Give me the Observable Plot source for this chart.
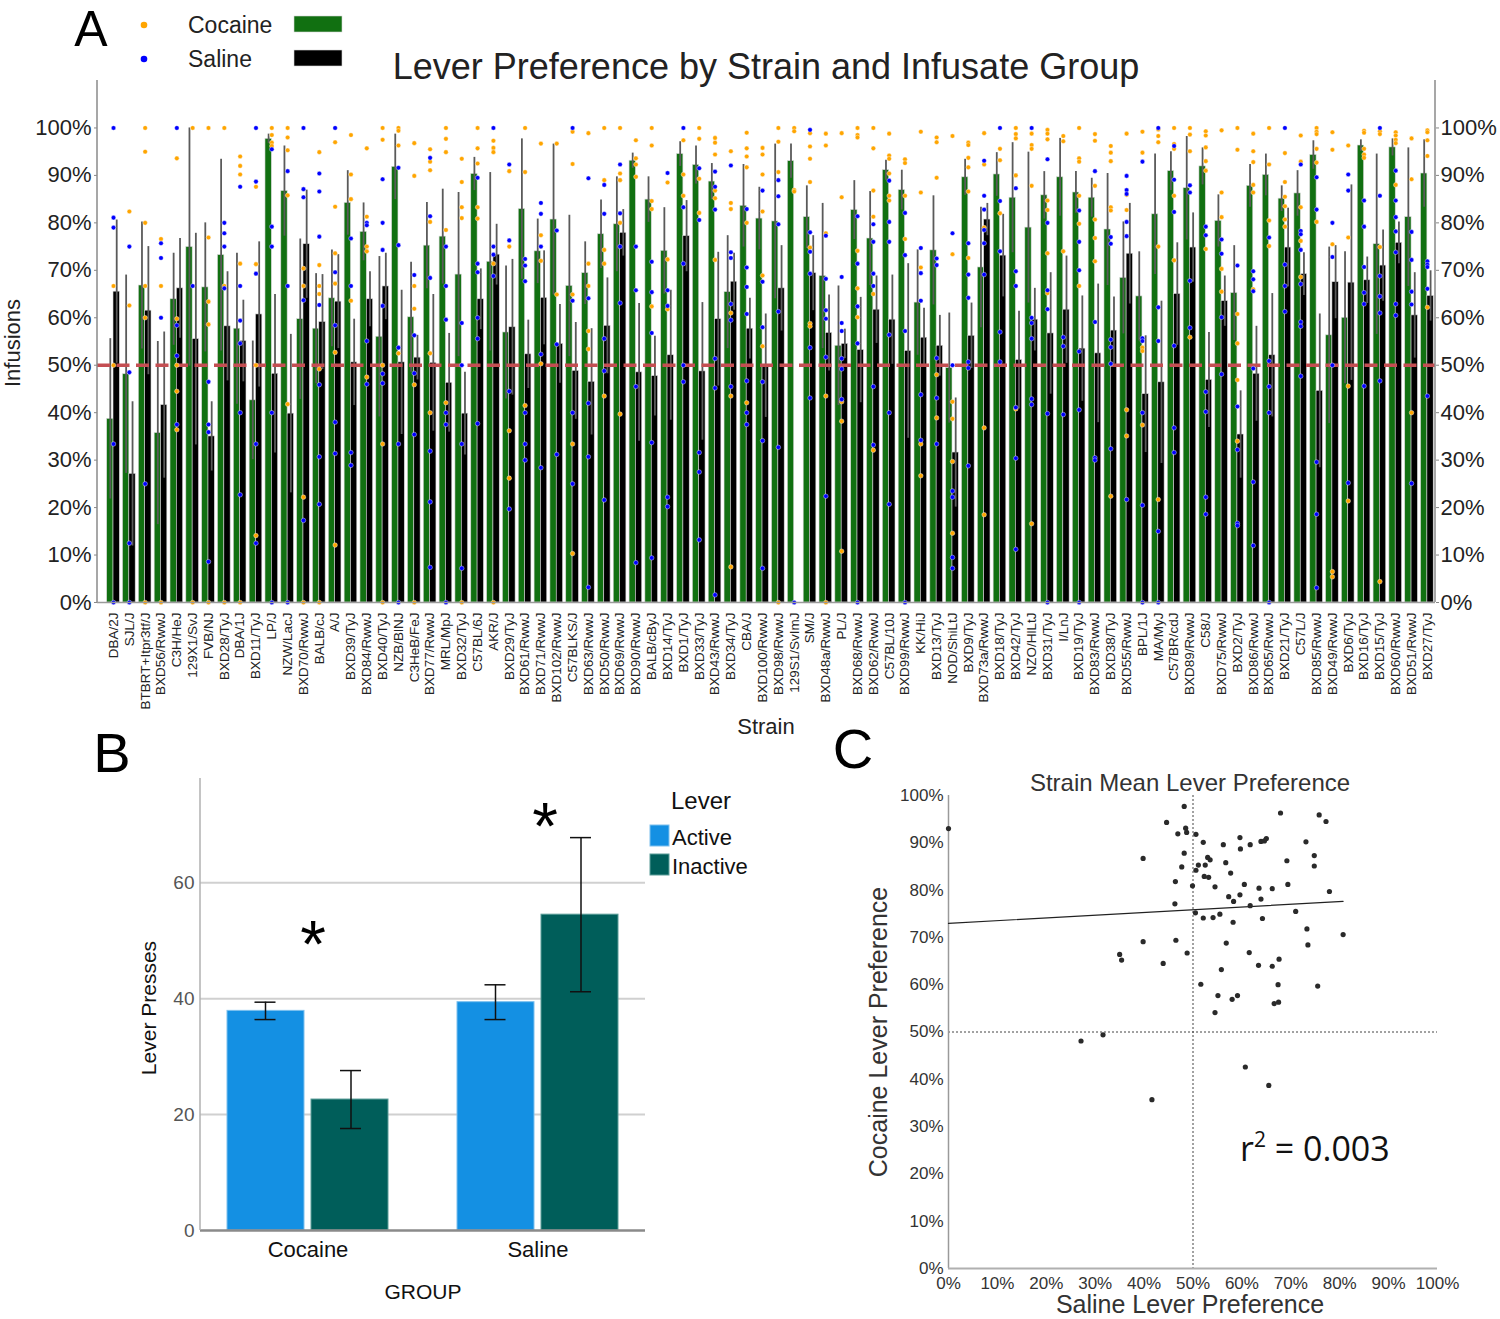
<!DOCTYPE html>
<html><head><meta charset="utf-8">
<script src="https://cdn.jsdelivr.net/npm/d3@7"></script>
<script src="https://cdn.jsdelivr.net/npm/@observablehq/plot@0.6"></script>
<style>
body{margin:0;background:#fff;}
#page{position:relative;width:1500px;height:1319px;overflow:hidden;background:#fff;}
#page svg{position:absolute;}
</style></head><body><div id="page"></div>
<script>
// ---------- Panel A data ----------
const strains = ["DBA/2J","SJL/J","BTBRT+Itpr3tf/J","BXD56/RwwJ","C3H/HeJ","129X1/SvJ","FVB/NJ","BXD28/TyJ","DBA/1J","BXD11/TyJ","LP/J","NZW/LacJ","BXD70/RwwJ","BALB/cJ","A/J","BXD39/TyJ","BXD84/RwwJ","BXD40/TyJ","NZB/BlNJ","C3HeB/FeJ","BXD77/RwwJ","MRL/MpJ","BXD32/TyJ","C57BL/6J","AKR/J","BXD29/TyJ","BXD61/RwwJ","BXD71/RwwJ","BXD102/RwwJ","C57BLKS/J","BXD63/RwwJ","BXD50/RwwJ","BXD69/RwwJ","BXD90/RwwJ","BALB/cByJ","BXD14/TyJ","BXD1/TyJ","BXD33/TyJ","BXD43/RwwJ","BXD34/TyJ","CBA/J","BXD100/RwwJ","BXD98/RwwJ","129S1/SvImJ","SM/J","BXD48a/RwwJ","PL/J","BXD68/RwwJ","BXD62/RwwJ","C57BL/10J","BXD99/RwwJ","KK/HiJ","BXD13/TyJ","NOD/ShiLtJ","BXD9/TyJ","BXD73a/RwwJ","BXD18/TyJ","BXD42/TyJ","NZO/HlLtJ","BXD31/TyJ","I/LnJ","BXD19/TyJ","BXD83/RwwJ","BXD38/TyJ","BXD55/RwwJ","BPL/1J","MA/MyJ","C57BR/cdJ","BXD89/RwwJ","C58/J","BXD75/RwwJ","BXD2/TyJ","BXD86/RwwJ","BXD65/RwwJ","BXD21/TyJ","C57L/J","BXD85/RwwJ","BXD49/RwwJ","BXD6/TyJ","BXD16/TyJ","BXD15/TyJ","BXD60/RwwJ","BXD51/RwwJ","BXD27/TyJ"];

const cocaineMean = [38.7,48.1,66.8,35.7,63.9,74.9,66.4,73.2,57.7,42.6,
 97.7,86.7,59.7,57.7,64.1,84.2,78.1,56.0,91.8,60.1,
 75.2,77.1,69.1,90.3,71.8,56.9,82.9,74.0,80.7,66.7,
 69.4,77.6,79.7,93.1,84.9,74.1,94.5,92.2,88.7,65.4,
 83.6,80.9,80.3,93.0,81.2,68.8,54.1,82.7,76.7,91.1,
 86.9,63.2,74.2,49.4,89.6,70.6,90.2,85.3,79.0,85.8,
 89.6,86.4,85.3,78.6,68.4,64.5,81.8,90.9,87.3,91.9,
 80.4,65.2,87.8,90.1,85.1,86.2,94.3,56.3,60.0,96.3,
 75.5,95.9,81.2,90.4];

const salineMean = [65.5,27.1,61.5,41.6,66.2,55.5,35.0,58.2,55.1,60.7,
 48.2,39.8,75.5,59.1,63.4,50.6,63.9,66.6,50.6,51.6,
 50.5,46.3,39.8,63.9,73.3,58.0,52.3,64.2,54.5,48.8,
 46.5,58.3,77.9,48.5,47.7,52.1,77.2,48.7,59.7,67.6,
 57.7,49.9,66.2,0,69.4,56.8,54.5,53.2,61.7,59.6,
 53.0,55.8,54.1,31.6,56.2,80.7,73.1,51.1,59.6,56.7,
 61.7,53.5,52.5,57.3,73.5,43.9,46.4,65.0,74.8,46.9,
 63.5,35.4,48.2,52.1,74.8,69.2,44.6,67.5,67.4,67.9,
 71.0,75.8,60.5,64.6];

const cocaineErrHigh = [55.6,69,80.2,55,73.6,100,80,93.4,73.6,55.1,
 98.7,96.2,76.6,69.3,74.3,91,84.2,72.9,98.7,71.7,
 84.3,87.1,86.4,93.8,90.6,70.9,97.7,80.8,96.6,81.6,
 76,84.8,89.7,94.7,89.7,83.2,97.1,96.2,92.5,77.3,
 92.3,87.5,96.6,96.6,87.8,84.1,66.7,88.9,86.6,93.2,
 91.1,74.3,85.7,61,93.4,83.3,94.8,96.9,94.9,90.8,
 97.8,90.8,89.4,90.4,80.2,73.9,94.5,95,98.2,95.8,
 85.9,75.2,92.3,94.5,87.8,91,97.3,74.9,73.9,97.5,
 94.5,97.7,95.8,97.5];

const salineErrHigh = [80.6,42.3,75,57,76.7,77.8,42.3,69.7,63.7,76,
 64.9,56.5,86.9,69.1,73.3,59.7,69.7,73.6,65.8,56.3,
 64.9,56.7,48.5,70.3,79.7,72.3,59.5,74.1,62.8,59,
 57.7,68.4,82.8,63,56.1,65.8,84.7,63.2,73.8,73.6,
 64.1,60.8,75.2,0,77.3,64.8,57.6,64.3,68.8,69,
 71.4,62,60.5,43.1,63.1,84.1,81.8,61.4,66.2,69.5,
 73,64.6,67.1,64.4,84.1,56.2,63.5,75.8,82.1,56.9,
 68.8,44.6,58.2,65.1,83.1,73.7,60.8,75.2,88,72.8,
 78.5,80.2,69.5,69.9];

const cocaineDots = [
 [66.7,50],[82.4,62.6],[100,95,80,66.7,60,0],[76.6,66.7,0],[93.6,59.8,50,44.5,36.4],
 [100,0],[100,76.9,63.4,58.6,0],[100,66.7,0],[94,92,90.2,71.4,0],[87.6,71.3,50,14.1],
 [100,98.5,96.9,96.2],[100,98,95.3,85.8,41.8],[70.4,66.7,22.2,0],[94.9,71.1,66.7,65,49.2,0],[97,83.4,73.6,67.2,52.7,12.1],
 [98.5,90.2,85,63.6],[95.7,81.3,75,74,47.5],[100,97.5,50,33.4,0],[100,99.4,96.3,52.5],[96.8,89.9,66.7,61.9,45.9,0],
 [95.5,92.9,91.1,80.2,52.5,40],[100,97.7,94.9,78.5,42.1],[93.5,88.6,83.3,81,0],[100,95.7,92.5,83.3,80.9],[97.3,95.8,94.9,71.4,0],
 [90.9,75,36.2,26.2],[100,90.7,41.5],[96.7,77.4,72,50.3],[96.7,64.9],[99.2,92.4,64.9,33.4,10.3],
 [98.9,71.4,66.7,57.2,53.4],[100,89,74.3,71.4,43.5],[100,90.4,89,80,39.7],[97.4,93.6,92.3,89.7],[100,96.3,84.6,82.9,62.4],
 [88.5,72.3,61.8],[97.4,90.2,85.7],[100,97.7,89.3,82.1],[97.9,96.9,94.4,86.8,85.2,72.2],[95.1,84.2,82.9,61,43.5,7.5],
 [99,95.7,94,91.7,80,42.1],[95.8,94.4,90.2,82.4,68.9,54],[100,97.1,90.7,0],[100,99.3,86.9,86.6],[98.9,96.1,93.5,88.6,74.8,58.8,58.2],
 [98.8,96.3,77.8,43.5,0],[98.9,85.4,42.3,38.2,10.8],[100,98.5,98,74.1,66.2,60.1],[100,95.7,86.8,81.3,65,32.1],[98.8,94.2,93.5,90.4,85.7,84.7],
 [93.4,92.6,85.7,76.6],[99.2,86.4,70.6,33.4,26.7],[98,97,89.5,48,38.9],[98.3,73.4,42.3,38.7,29.7,14.6],[96.9,96.4,93.7,91.7,86.6,72.6],
 [98.9,92.3,79,36.8,18.5],[95.6,93.2,82],[100,98.7,97.8,90,40.8],[98.8,96.4,95.6,87.8,16.6],[99.6,98.8,97.6,84.7,82.7,73.6,65.2],
 [98.3,97.2,74],[100,93.6,92.9,85.7,79.8,66.7],[98.7,97.3,87.8,80.7,76.8,71.9],[96.2,94.8,93,83.3,82.6,22.4],[98.8,85.9,82.7,40.6,35.1],
 [99.2,94.8,53.7,53,37.4],[99.7,98.3,97,75,21.7],[100,96.6,95.6,85.7,72.1],[100,98.6,95.1,55.9],[99.3,98.4,95.9,93,91,74.5],
 [99.5,86.4,81.2,70.3,65.5],[100,95.4,60.8,54.6,46.9,34],[98.8,95.1,92.8,88,86.4,66],[100,92.3,80.5,75.1],[94.7,88.6,85.5,83.5,80.7,79.2],
 [98.4,92.9,83.3,76.2,68.6],[100,99.2,98.7,95.6,92.7,80.2],[99.1,95.4,75.5,6.5,5.4],[96.3,76.9,45.6,21.4],[99.4,99,95.6,94.4,93.7],
 [99.3,98.7,74.9,4.4],[99.1,98.4,97.5,96.8,88],[97.8,89.2,40],[99.5,99.1,97.4,94.1,62.2]];

const salineDots = [
 [100,81.1,79,33.4,0],[75,48.5,12.5,0],[25],[75.7,72.6,60],[100,58.4,52,37.5],
 [66.7],[46.5,37.5,35.9,8.6],[80,77.8,75,66.2],[87.6,66.7,59.4,54.6,40,22.7],[100,88.7,69.3,33.4,12.5],
 [95.5,79.2,75,40,0],[90.9,66.7,0],[100,87.1,85.4,63.7,17.3],[90.4,86.6,77.1,62.7,45.9,30.7,20.7],[100,69.6,58.4,38,31.4],
 [76.7,66.7,31.6,28.9],[80,79.5,55.1,46],[89.2,80,74.3,62.5,48.2,46.2],[91.6,75.3,53.7,33.4,0],[69,56.3,48.3,35.4],
 [93.7,81.4,68.4,31.9,21.2,7.4],[75,66.7,59.6,40,37.5,0],[58.9,50,33.4,7.2],[89.5,71.4,69.6,60,55.6,37.7],[100,75,73.3,68.8],
 [92.3,76.3,44.5,19.7],[72.4,71,67.7,40,33.4,30],[84.2,81.9,75,52.3,28.4],[78.4,54.4,31.2],[100,63.6,40,25],
 [89.4,64.1,42,30.7,3.2],[88,81.9,55.6,48.8,21.6],[92.3,82,75,63.1],[75,65.8,45.5,8.4],[71.8,65.4,56.8,33.7,9.4],
 [90.5,65.8,62.5,22.2,20.2],[100,83.3,71.4,50,46.5],[91.5,80.6,31.6,27.5,13.2],[90.8,87.6,82.8,51.4,45.2,1.6],[92.1,73.8,72.6,62.9,59.5,45.5],
 [82.9,70.6,66.5,60.8,46.7,40,37.5],[86.8,67.6,58,46.5,34.1,7.2],[89,85.6,79.7,61.3,32.7],[0],[99.6,78,73.9,69.3,53.7,43.1],
 [77.3,68.2,61.6,59.8,51.7,22.4],[68.6,58.9,57.2,51.4,49.2,42.8],[81.4,71.4,62.4,54.6,0],[79.7,76,69.3,66.7,45.5,33.2],[88.9,80.2,76,56.4,40,20.7],
 [82.1,73.2,57.2,0],[74.7,69.4,63.6,43.8,34.2],[72.5,71.1,51.5,43.1,33.4],[77.8,50,23.5,22.2,9.5,7.2],[75.7,69.1,64.2,50.7,49.4,28.8],
 [93.1,85.7,82.8,78.5,75.7,69.1],[100,84.6,74,57,50.7],[87.3,69.8,66.7,41.1,30.4,11.2],[100,60,58.9,55.6,42.9,41.7],[93.4,80,65.8,61.8,39.8,0],
 [55.9,54,39.6],[82.6,76,70,52.9,40.6,0],[90.9,59.1,30.5,30],[77,75.6,55.4,53.8,50.3,32.4],[89.9,86.9,86.1,80.2,77.2,21.7],
 [92.9,55.7,55.1,40,20.5,0],[100,62.2,55.1,15,0],[96.2,89.1,82.3,54.1,36.8,31.6],[87.9,86.4,67.8,57.9],[79.2,77.4,44.4,40.2,22.2,18.6],
 [76.5,73.5,60.1,48.1],[71,41.3,32.2,16.7,16.2],[69.8,68.1,65.6,49.3,25.4,12],[76.9,50.9,45.5,40,0],[100,71.2,66.7,61.3],
 [92.3,78.3,77.6,74.3,67.1,59.1,58.2,47.7],[89.6,82.8,29.6,18.6,3.1],[80,72.8,50],[90.2,86.8,25.2],[84.7,79.2,70.7,65.3,62.9,45.6],
 [100,85.7,68.8,64.5,61,46.7],[91,84.7,81.2,78.2,73.8,62.9,60.5],[78.1,72.2,65.5,62.8,25.1],[71.9,71.2,70.7,66.1,43.5]];

const pctTicks = [0,10,20,30,40,50,60,70,80,90,100];

// ---------- Panel B data ----------
const groups = ["Cocaine","Saline"];
const activeMean = [37.9, 39.4];
const activeErr = [1.5, 3.0];
const inactiveMean = [22.6, 54.5];
const inactiveErr = [5.0, 13.3];
const pressTicks = [0,20,40,60];

// ---------- Build ----------
const page = document.getElementById("page");
const FONT = "'Liberation Sans', Arial, sans-serif";
function put(svg, left, top){ svg.style.left = left+"px"; svg.style.top = top+"px"; svg.style.position="absolute"; svg.style.maxWidth="none"; page.appendChild(svg); }

const rowsA = strains.map((s,i)=>({
  strain:s, coc:cocaineMean[i], sal:salineMean[i],
  cHi:cocaineErrHigh[i], cLo:Math.max(0, 2*cocaineMean[i]-cocaineErrHigh[i]),
  sHi:salineErrHigh[i], sLo:Math.max(0, 2*salineMean[i]-salineErrHigh[i])
}));
const cocDotsA = strains.flatMap((s,i)=>cocaineDots[i].map(v=>({strain:s, v})));
const salDotsA = strains.flatMap((s,i)=>salineDots[i].map(v=>({strain:s, v})));
const halfBand = 6.33;

const plotA = Plot.plot({
  width:1500, height:740, marginTop:80, marginBottom:138, marginLeft:97, marginRight:65,
  style:{fontFamily:FONT, background:"transparent", color:"#222"},
  x:{type:"band", domain:strains, range:[105.1,1434.8], paddingInner:0.2, paddingOuter:0.1, label:null},
  y:{domain:[0,110], label:null},
  marks:[
    Plot.barY(rowsA,{x:"strain", y:"coc", fill:"#117011", insetRight:halfBand, stroke:"#d6d6d6", strokeWidth:0.6}),
    Plot.barY(rowsA,{x:"strain", y:"sal", fill:"#000000", insetLeft:halfBand, stroke:"#d6d6d6", strokeWidth:0.6}),
    Plot.ruleX(rowsA,{x:"strain", y1:"cLo", y2:"cHi", dx:-3.2, stroke:"#5a5a5a", strokeWidth:1.8}),
    Plot.ruleX(rowsA,{x:"strain", y1:"sLo", y2:"sHi", dx:3.2, stroke:"#5a5a5a", strokeWidth:1.8}),
    Plot.ruleY([50],{stroke:"#c44e52", strokeWidth:3.3, strokeDasharray:"13,6.5"}),
    Plot.dot(cocDotsA,{x:"strain", y:"v", r:2.3, fill:"#ffa500", stroke:"#ffffff", strokeWidth:0.4}),
    Plot.dot(salDotsA,{x:"strain", y:"v", r:2.3, fill:"#0000ff", stroke:"#ffffff", strokeWidth:0.4}),
    Plot.ruleY([0],{stroke:"#9a9a9a", strokeWidth:1.5}),
    Plot.axisY({anchor:"left", ticks:pctTicks, tickFormat:d=>d+"%", tickSize:3, tickPadding:3, fontSize:22, label:null, stroke:"#888"}),
    Plot.axisY({anchor:"right", ticks:pctTicks, tickFormat:d=>d+"%", tickSize:3, tickPadding:2, fontSize:22, label:null, stroke:"#888"}),
    Plot.axisX({tickRotate:-90, tickSize:0, tickPadding:10, fontSize:13.5, label:null})
  ]
});
{
  const s = d3.select(plotA);
  s.append("line").attr("x1",97).attr("x2",97).attr("y1",80).attr("y2",602).attr("stroke","#8a8a8a").attr("stroke-width",1.5);
  s.append("line").attr("x1",1435).attr("x2",1435).attr("y1",80).attr("y2",602).attr("stroke","#8a8a8a").attr("stroke-width",1.5);
}
put(plotA, 0, 0);

// ---------- Panel B ----------
const rowsB = groups.map((g,i)=>({g,
  act:activeMean[i], actLo:activeMean[i]-activeErr[i], actHi:activeMean[i]+activeErr[i],
  ina:inactiveMean[i], inaLo:inactiveMean[i]-inactiveErr[i], inaHi:inactiveMean[i]+inactiveErr[i]}));
const plotB = Plot.plot({
  width:800, height:579, marginTop:38, marginBottom:89, marginLeft:200, marginRight:155,
  style:{fontFamily:FONT, background:"transparent", color:"#111"},
  x:{type:"band", domain:groups, range:[200,645], paddingInner:0.3, paddingOuter:0.117, label:null},
  y:{domain:[0,78], label:null},
  marks:[
    Plot.gridY([20,40,60],{stroke:"#d0d0d0", strokeOpacity:1, strokeWidth:2}),
    Plot.barY(rowsB,{x:"g", y:"act", fill:"#1490e3", insetRight:84, stroke:"#7cc0ee", strokeWidth:1}),
    Plot.barY(rowsB,{x:"g", y:"ina", fill:"#005e5a", insetLeft:84, stroke:"#5a9c98", strokeWidth:1}),
    Plot.ruleX(rowsB,{x:"g", y1:"actLo", y2:"actHi", dx:-42.5, stroke:"#111", strokeWidth:1.5}),
    Plot.ruleX(rowsB,{x:"g", y1:"inaLo", y2:"inaHi", dx:43, stroke:"#111", strokeWidth:1.5}),
    Plot.tickY(rowsB,{x:"g", y:"actHi", dx:-42.5, insetLeft:70, insetRight:70, stroke:"#111", strokeWidth:1.5}),
    Plot.tickY(rowsB,{x:"g", y:"actLo", dx:-42.5, insetLeft:70, insetRight:70, stroke:"#111", strokeWidth:1.5}),
    Plot.tickY(rowsB,{x:"g", y:"inaHi", dx:43, insetLeft:70, insetRight:70, stroke:"#111", strokeWidth:1.5}),
    Plot.tickY(rowsB,{x:"g", y:"inaLo", dx:43, insetLeft:70, insetRight:70, stroke:"#111", strokeWidth:1.5}),
    Plot.ruleY([0],{stroke:"#8a8a8a", strokeWidth:2.5}),
    Plot.axisY({ticks:pressTicks, tickSize:0, tickPadding:6, fontSize:19, color:"#555", label:null, fontFamily:"'Liberation Sans Narrow', 'Liberation Sans', Arial, sans-serif"}),
    Plot.axisX({tickSize:0, tickPadding:11, fontSize:22, color:"#111", label:null})
  ]
});
d3.select(plotB).append("line").attr("x1",200).attr("x2",200).attr("y1",38).attr("y2",490).attr("stroke","#b0b0b0").attr("stroke-width",1.5);
put(plotB, 0, 740);

// ---------- Panel C (strain means from panel A) ----------
const rowsC = strains.map((s,i)=>({strain:s, sal:salineMean[i], coc:cocaineMean[i]}));
const plotC = Plot.plot({
  width:670, height:579, marginTop:55, marginBottom:51, marginLeft:118, marginRight:63,
  style:{fontFamily:FONT, background:"transparent", color:"#333"},
  x:{domain:[0,100], label:null},
  y:{domain:[0,100], label:null},
  marks:[
    Plot.ruleY([50],{stroke:"#444", strokeWidth:1, strokeDasharray:"2,2"}),
    Plot.ruleX([50],{stroke:"#444", strokeWidth:1, strokeDasharray:"2,2"}),
    Plot.ruleX([0],{stroke:"#9a9a9a", strokeWidth:1.5}),
    Plot.ruleY([0],{stroke:"#b0b0b0", strokeWidth:2}),
    Plot.linearRegressionY(rowsC,{x:"sal", y:"coc", ci:0, stroke:"#222", strokeWidth:1.2}),
    Plot.dot(rowsC,{x:"sal", y:"coc", r:2.6, fill:"#2a2a2a"}),
    Plot.axisX({ticks:pctTicks, tickFormat:d=>d+"%", tickSize:0, tickPadding:8, fontSize:17, label:null}),
    Plot.axisY({ticks:pctTicks, tickFormat:d=>d+"%", tickSize:0, tickPadding:5, fontSize:17, label:null})
  ]
});
put(plotC, 830, 740);

// ---------- Overlay text ----------
const ov = d3.create("svg").attr("width",1500).attr("height",1319)
  .style("position","absolute").style("left","0px").style("top","0px").style("pointer-events","none")
  .style("font-family", FONT);
function txt(x,y,s,size,opts={}){
  const t = ov.append("text").attr("x",x).attr("y",y).attr("font-size",size)
    .attr("fill",opts.fill||"#222").attr("text-anchor",opts.anchor||"middle")
    .attr("dominant-baseline",opts.baseline||"central").text(s);
  if(opts.rotate) t.attr("transform",`rotate(${opts.rotate},${x},${y})`);
  if(opts.family) t.attr("font-family",opts.family);
  return t;
}
// Panel A
txt(91,46,"A",50,{fill:"#000",baseline:"alphabetic"});
ov.append("circle").attr("cx",144).attr("cy",25).attr("r",3.3).attr("fill","#ffa500");
ov.append("circle").attr("cx",144).attr("cy",59).attr("r",3.3).attr("fill","#0000ff");
txt(188,25,"Cocaine",23,{anchor:"start"});
txt(188,59,"Saline",23,{anchor:"start"});
ov.append("rect").attr("x",294).attr("y",16).attr("width",48).attr("height",16).attr("fill","#117011").attr("stroke","#d6d6d6").attr("stroke-width",0.6);
ov.append("rect").attr("x",294).attr("y",50).attr("width",48).attr("height",16).attr("fill","#000").attr("stroke","#d6d6d6").attr("stroke-width",0.6);
txt(766,66,"Lever Preference by Strain and Infusate Group",36);
txt(12,343,"Infusions",22,{rotate:-90});
txt(766,726,"Strain",22);
// Panel B
txt(112,752,"B",56,{fill:"#000"});
txt(148,1008,"Lever Presses",21,{rotate:-90,fill:"#111"});
txt(423,1291,"GROUP",21,{fill:"#111"});
txt(313,967,"*",66,{fill:"#000",baseline:"alphabetic"});
txt(545,849,"*",66,{fill:"#000",baseline:"alphabetic"});
txt(701,800,"Lever",24,{fill:"#111"});
ov.append("rect").attr("x",650).attr("y",825).attr("width",19).attr("height",21).attr("fill","#1490e3").attr("stroke","#7cc0ee");
ov.append("rect").attr("x",650).attr("y",854).attr("width",19).attr("height",21).attr("fill","#005e5a").attr("stroke","#5a9c98");
txt(672,837,"Active",22,{anchor:"start",fill:"#111"});
txt(672,866,"Inactive",22,{anchor:"start",fill:"#111"});
// Panel C
txt(853,748,"C",56,{fill:"#000"});
txt(1190,782,"Strain Mean Lever Preference",24,{fill:"#333"});
txt(878,1032,"Cocaine Lever Preference",25,{rotate:-90,fill:"#333"});
txt(1190,1313,"Saline Lever Preference",25,{fill:"#333",baseline:"alphabetic"});
{
  const r2 = ov.append("text").attr("x",1240).attr("y",1161).attr("font-size",34).attr("fill","#111")
    .attr("font-family","'Open Sans', 'Noto Sans', sans-serif").attr("text-anchor","start");
  r2.append("tspan").text("r");
  r2.append("tspan").attr("font-size",21).attr("dy",-14).text("2");
  r2.append("tspan").attr("dy",14).text(" = 0.003");
}
page.appendChild(ov.node());
</script>
</body></html>
